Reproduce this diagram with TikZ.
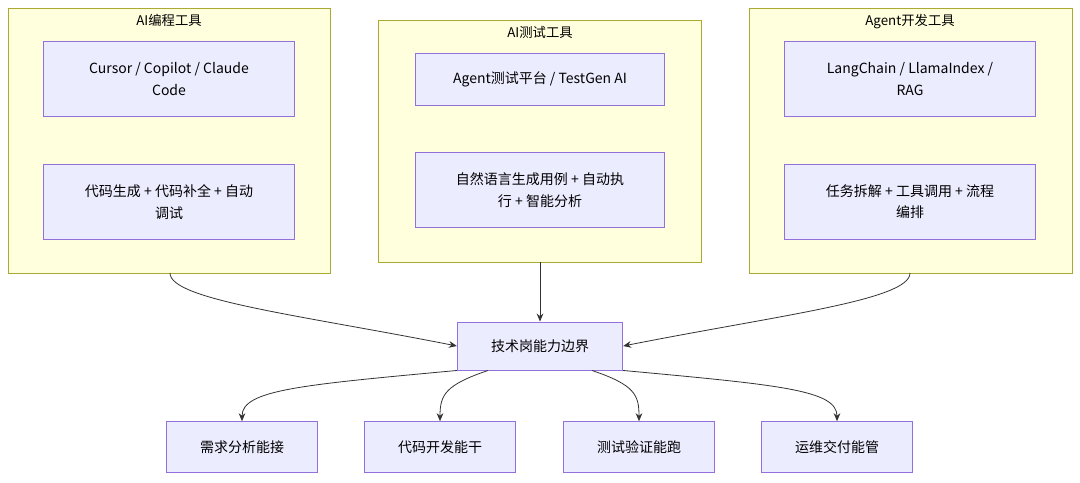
\documentclass[tikz,border=0pt]{standalone}
\usepackage{fontspec}
\setmainfont{Noto Sans CJK SC}
\usetikzlibrary{positioning,arrows.meta,calc}
\definecolor{clfill}{HTML}{FFFFDE}
\definecolor{cldraw}{HTML}{AAAA33}
\definecolor{ndfill}{HTML}{ECECFF}
\definecolor{nddraw}{HTML}{9370DB}
\tikzset{
  cluster/.style={draw=cldraw, fill=clfill, line width=0.7pt},
  box/.style={draw=nddraw, fill=ndfill, line width=0.7pt, align=center,
    font=\fontsize{10.5}{16}\selectfont, inner sep=0pt},
  title/.style={font=\fontsize{10}{12}\selectfont, anchor=north},
  link/.style={draw=black!80, line width=0.6pt, -{Stealth[length=6pt,width=5pt]}},
}
\begin{document}
\begin{tikzpicture}[x=0.75pt,y=-0.75pt]
\useasboundingbox (0,0) rectangle (1080,482);

%%%%%%%%%%%%%%%%%%%%%%%%%%%%%%%%%%%%%%%%%%%%%%%% clusters
\draw[cluster] (8,8) rectangle (330,273);
\node[title] (tcode) at (169,10) {AI编程工具};
\draw[cluster] (378,20) rectangle (701,262);
\node[title] (ttest) at (540,22) {AI测试工具};
\draw[cluster] (749,8) rectangle (1072,273);
\node[title] (tagent) at (910,10) {Agent开发工具};

%%%%%%%%%%%%%%%%%%%%%%%%%%%%%%%%%%%%%%%%%%%%%%%% tool boxes
\node[box, minimum width=188pt, minimum height=56pt] (code1) at (169,79) {Cursor / Copilot / Claude\\Code};
\node[box, minimum width=188pt, minimum height=56pt] (code2) at (169,202) {代码生成 + 代码补全 + 自动\\调试};
\node[box, minimum width=187pt, minimum height=39pt] (test1) at (540,79) {Agent测试平台 / TestGen AI};
\node[box, minimum width=187pt, minimum height=56pt] (test2) at (540,190) {自然语言生成用例 + 自动执\\行 + 智能分析};
\node[box, minimum width=188pt, minimum height=56pt] (agent1) at (910,79) {LangChain / LlamaIndex /\\RAG};
\node[box, minimum width=188pt, minimum height=56pt] (agent2) at (910,202) {任务拆解 + 工具调用 + 流程\\编排};

%%%%%%%%%%%%%%%%%%%%%%%%%%%%%%%%%%%%%%%%%%%%%%%% center and roles
\node[box, minimum width=124pt, minimum height=36pt] (core) at (540,346) {技术岗能力边界};
\node[box, minimum width=113pt, minimum height=38pt] (role1) at (242,447) {需求分析能接};
\node[box, minimum width=113pt, minimum height=38pt] (role2) at (440,447) {代码开发能干};
\node[box, minimum width=113pt, minimum height=38pt] (role3) at (639,447) {测试验证能跑};
\node[box, minimum width=113pt, minimum height=38pt] (role4) at (837,447) {运维交付能管};

\coordinate (cl) at (170,273);
\coordinate (cm) at (540,262);
\coordinate (cr) at (910,273);

\draw[link] (cl) .. controls (170,300) and (300,315) .. (core.west);
\draw[link] (cm) -- (core.north);
\draw[link] (cr) .. controls (910,300) and (780,315) .. (core.east);

\draw[link] (core.south west) .. controls (300,385) and (242,390) .. (role1.north);
\draw[link] ($(core.south)+(-52,0)$) .. controls (445,385) and (440,395) .. (role2.north);
\draw[link] ($(core.south)+(52,0)$) .. controls (635,385) and (639,395) .. (role3.north);
\draw[link] (core.south east) .. controls (780,385) and (837,390) .. (role4.north);
\end{tikzpicture}
\end{document}
